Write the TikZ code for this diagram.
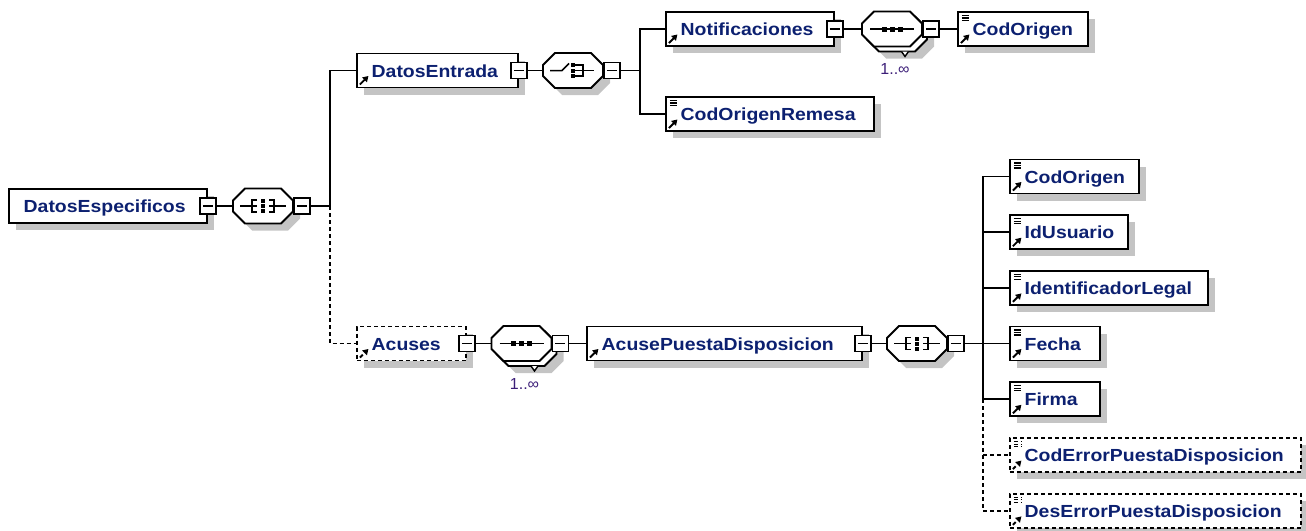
\documentclass[tikz,border=0pt]{standalone}
\usepackage{fontspec}
\usepackage{graphicx}
\usetikzlibrary{shadows,arrows.meta,calc}
\newfontfamily\lblfont{Liberation Sans}
\definecolor{txtblue}{RGB}{12,32,112}
\definecolor{multc}{RGB}{60,30,120}
\definecolor{shadowgray}{RGB}{196,196,196}
\newcommand{\xsRefArrow}{\draw[line width=1.9pt,-{Triangle[length=5.5pt,width=6.5pt]}] ([xshift=3pt,yshift=3pt]path picture bounding box.south west) -- ++(8.5pt,8.5pt);}
\newcommand{\xsDocIcon}{\foreach \k in {3.5,6,8.5}{\draw[line width=1.1pt] ([xshift=4pt,yshift=-\k pt]path picture bounding box.north west) -- ++(7.5pt,0pt);}}
\newcommand{\xsLbl}[1]{\scalebox{1.11}[1]{#1}}
% octagon drawn around a named (invisible) rectangle node, offset by (#2,#3)
\newcommand{\xsOctPath}[3]{($(#1.north west)+(#2,#3+12)$) -- ($(#1.north west)+(#2+12,#3)$) -- ($(#1.north east)+(#2-12,#3)$) -- ($(#1.north east)+(#2,#3+12)$) -- ($(#1.south east)+(#2,#3-12)$) -- ($(#1.south east)+(#2-12,#3)$) -- ($(#1.south west)+(#2+12,#3)$) -- ($(#1.south west)+(#2,#3-12)$) -- cycle}
\newcommand{\xsOctShadow}[1]{\fill[shadowgray] \xsOctPath{#1}{7}{7};}
\newcommand{\xsOctBody}[1]{\draw[line width=1.8pt, fill=white, line join=miter] \xsOctPath{#1}{0}{0};}
\newcommand{\xsAllSym}[1]{%
 \begin{scope}[shift={(#1.center)},line width=1.5pt]
  \draw (-23,0) -- (-11,0) (11,0) -- (23,0);
  \draw (-6,-6) -- (-11,-6) -- (-11,6) -- (-6,6) (-11,0) -- (-6,0);
  \draw (6,-6) -- (11,-6) -- (11,6) -- (6,6) (11,0) -- (6,0);
  \foreach \yy in {-5,0,5} \fill (-2,\yy-2) rectangle (2,\yy+2);
 \end{scope}}
\newcommand{\xsChoiceSym}[1]{%
 \begin{scope}[shift={(#1.center)},line width=1.5pt]
  \draw (-23,0) -- (-11,0) -- (-4,-7);
  \draw (0,-5.5) -- (10,-5.5) -- (10,5.5) -- (0,5.5) (0,0) -- (21,0);
  \foreach \yy in {-5.5,0,5.5} \fill (-2,\yy-2) rectangle (2,\yy+2);
 \end{scope}}
\newcommand{\xsSeqSym}[1]{%
 \begin{scope}[shift={(#1.center)},line width=1.5pt]
  \draw (-22,0) -- (22,0);
  \foreach \xx in {-8,0,8} \fill (\xx-2.5,-2.5) rectangle (\xx+2.5,2.5);
 \end{scope}}
\begin{document}
\begin{tikzpicture}[x=1pt,y=-1pt,
  conn/.style={line width=1.8pt, black},
  optconn/.style={conn, dash pattern=on 4pt off 3pt},
  shad/.style={drop shadow={shadow xshift=7pt, shadow yshift=-7pt, fill=shadowgray, opacity=1}},
  boxbase/.style={draw, line width=1.8pt, fill=white, rectangle, minimum height=34pt, inner sep=0pt, anchor=west, shad},
  elem/.style={boxbase},
  refelem/.style={boxbase, path picture={\xsRefArrow}},
  leafelem/.style={boxbase, path picture={\xsRefArrow\xsDocIcon}},
  optional/.style={dash pattern=on 4pt off 3pt},
  lbl/.style={anchor=base west, inner sep=0pt, text=txtblue, font=\lblfont\bfseries\fontsize{17.5}{20}\selectfont},
  octbox/.style={rectangle, draw=none, minimum width=60pt, minimum height=35pt, inner sep=0pt, outer sep=0pt},
  minus/.style={draw, line width=1.8pt, fill=white, minimum size=16pt, inner sep=0pt, path picture={\draw[line width=1.4pt] ([xshift=3pt]path picture bounding box.west) -- ([xshift=-3pt]path picture bounding box.east);}},
  mult/.style={text=multc, font=\lblfont\fontsize{16}{18}\selectfont, inner sep=0pt},
  notch/.style={line width=1.4pt, fill=white, line join=miter}
]
\useasboundingbox (0,0) rectangle (1306,530);

% ---------- element boxes ----------
\node[elem, minimum width=198pt] (dse) at (8,206) {};
\node[refelem, minimum width=161pt] (den) at (356,70.5) {};
\node[refelem, minimum width=168pt] (not) at (665,29) {};
\node[leafelem, minimum width=130pt] (cot) at (957,29) {};
\node[leafelem, minimum width=208pt] (cor) at (665,114) {};
\node[refelem, optional, minimum width=109pt] (acu) at (356,343.5) {};
\node[refelem, minimum width=275pt] (apd) at (586,343.5) {};
\node[leafelem, minimum width=129pt] (c1) at (1009,176.5) {};
\node[leafelem, minimum width=118pt] (c2) at (1009,232.2) {};
\node[leafelem, minimum width=198pt] (c3) at (1009,287.9) {};
\node[leafelem, minimum width=90pt] (c4) at (1009,343.5) {};
\node[leafelem, minimum width=90pt] (c5) at (1009,399.3) {};
\node[leafelem, optional, minimum width=291pt] (c6) at (1009,455.1) {};
\node[leafelem, optional, minimum width=291pt] (c7) at (1009,510.9) {};

% ---------- labels ----------
\node[lbl] (dse-t) at ($(dse.west)+(15.5,6.5)$) {\xsLbl{DatosEspecificos}};
\node[lbl] (den-t) at ($(den.west)+(15.5,6.5)$) {\xsLbl{DatosEntrada}};
\node[lbl] (not-t) at ($(not.west)+(15.5,6.5)$) {\xsLbl{Notificaciones}};
\node[lbl] (cot-t) at ($(cot.west)+(15.5,6.5)$) {\xsLbl{CodOrigen}};
\node[lbl] (cor-t) at ($(cor.west)+(15.5,6.5)$) {\xsLbl{CodOrigenRemesa}};
\node[lbl] (acu-t) at ($(acu.west)+(15.5,6.5)$) {\xsLbl{Acuses}};
\node[lbl] (apd-t) at ($(apd.west)+(15.5,6.5)$) {\xsLbl{AcusePuestaDisposicion}};
\node[lbl] (c1-t) at ($(c1.west)+(15.5,6.5)$) {\xsLbl{CodOrigen}};
\node[lbl] (c2-t) at ($(c2.west)+(15.5,6.5)$) {\xsLbl{IdUsuario}};
\node[lbl] (c3-t) at ($(c3.west)+(15.5,6.5)$) {\xsLbl{IdentificadorLegal}};
\node[lbl] (c4-t) at ($(c4.west)+(15.5,6.5)$) {\xsLbl{Fecha}};
\node[lbl] (c5-t) at ($(c5.west)+(15.5,6.5)$) {\xsLbl{Firma}};
\node[lbl] (c6-t) at ($(c6.west)+(15.5,6.5)$) {\xsLbl{CodErrorPuestaDisposicion}};
\node[lbl] (c7-t) at ($(c7.west)+(15.5,6.5)$) {\xsLbl{DesErrorPuestaDisposicion}};

% ---------- compositors ----------
\node[octbox] (o1) at (263,206) {};
\xsOctShadow{o1}\xsOctBody{o1}
\xsAllSym{o1}

\node[octbox] (o2) at (573,70.5) {};
\xsOctShadow{o2}\xsOctBody{o2}
\xsChoiceSym{o2}

\node[octbox] (o3b) at (897,34) {};
\node[octbox] (o3) at (892,29) {};
\xsOctShadow{o3b}\xsOctBody{o3b}
\draw[notch] ($(o3b.south)+(4.5,0)$) -- ($(o3b.south)+(8,5)$) -- ($(o3b.south)+(11.5,0)$);
\xsOctBody{o3}
\xsSeqSym{o3}

\node[octbox] (o4b) at (526.5,348.5) {};
\node[octbox] (o4) at (521.5,343.5) {};
\xsOctShadow{o4b}\xsOctBody{o4b}
\draw[notch] ($(o4b.south)+(4.5,0)$) -- ($(o4b.south)+(8,5)$) -- ($(o4b.south)+(11.5,0)$);
\xsOctBody{o4}
\xsSeqSym{o4}

\node[octbox] (o5) at (917,343.5) {};
\xsOctShadow{o5}\xsOctBody{o5}
\xsAllSym{o5}

\node[mult] (o3-n) at ($(o3.center)+(3,40)$) {1..∞};
\node[mult] (o4-n) at ($(o4.center)+(3,40)$) {1..∞};

% ---------- expand / collapse boxes ----------
\node[minus] (dse-m) at (dse.east) {};
\node[minus] (den-m) at (den.east) {};
\node[minus] (not-m) at (not.east) {};
\node[minus] (acu-m) at (acu.east) {};
\node[minus] (apd-m) at (apd.east) {};
\node[minus, anchor=west] (o1-m) at (o1.east) {};
\node[minus, anchor=west] (o2-m) at (o2.east) {};
\node[minus, anchor=west] (o3-m) at (o3.east) {};
\node[minus, anchor=west] (o4-m) at (o4.east) {};
\node[minus, anchor=west] (o5-m) at (o5.east) {};

% ---------- connectors ----------
\draw[conn] (dse-m.east) -- (o1.west);
\coordinate (t1) at (330,206);
\draw[conn] (o1-m.east) -- (t1);
\draw[conn] (t1) |- (den.west);
\draw[optconn] (t1) |- (acu.west);

\draw[conn] (den-m.east) -- (o2.west);
\coordinate (t2) at (640,70.5);
\draw[conn] (o2-m.east) -- (t2);
\draw[conn] (t2) |- (not.west);
\draw[conn] (t2) |- (cor.west);
\draw[conn] (not-m.east) -- (o3.west);
\draw[conn] (o3-m.east) -- (cot.west);

\draw[conn] (acu-m.east) -- (o4.west);
\draw[conn] (o4-m.east) -- (apd.west);
\draw[conn] (apd-m.east) -- (o5.west);
\coordinate (t3) at (983,343.5);
\draw[conn] (o5-m.east) -- (t3);
\foreach \cn in {c1,c2,c3,c4,c5} \draw[conn] (t3) |- (\cn.west);
\draw[optconn] (t3 |- c5.west) |- (c6.west);
\draw[optconn] (t3 |- c5.west) |- (c7.west);
\end{tikzpicture}
\end{document}
